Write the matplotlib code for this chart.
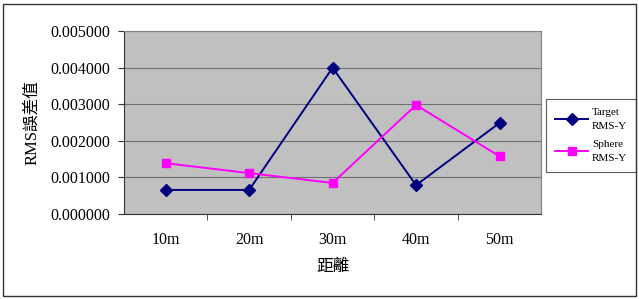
import matplotlib.pyplot as plt
from matplotlib.patches import Rectangle

plt.rcParams['font.family'] = ['Liberation Serif', 'Noto Sans CJK TC']

distances = ['10m', '20m', '30m', '40m', '50m']
target_rms_y = [0.00066, 0.00066, 0.00400, 0.00079, 0.00249]
sphere_rms_y = [0.00139, 0.00112, 0.00085, 0.00298, 0.00158]
y_ticks = [0.0, 0.001, 0.002, 0.003, 0.004, 0.005]

fig = plt.figure(figsize=(6.39, 2.99), dpi=100)
# outer chart border
fig.patches.append(Rectangle((0.004, 0.01), 0.991, 0.977, transform=fig.transFigure,
                             fill=False, edgecolor='#333333', lw=1.0))

ax = fig.add_axes([0.194, 0.284, 0.653, 0.612])
ax.set_facecolor('#c0c0c0')
x = range(len(distances))
ax.plot(x, target_rms_y, color='#000080', lw=1.4, marker='D', markersize=6,
        label='Target\nRMS-Y')
ax.plot(x, sphere_rms_y, color='#ff00ff', lw=1.4, marker='s', markersize=6,
        label='Sphere\nRMS-Y')

ax.set_xlim(-0.5, 4.5)
ax.set_ylim(0, 0.005)
ax.set_yticks(y_ticks)
ax.set_yticklabels([f'{v:.6f}' for v in y_ticks], fontsize=11.5)
ax.set_xticks(list(x))
ax.set_xticklabels(distances, fontsize=11.5)
ax.set_xticks([i + 0.5 for i in range(4)], minor=True)
ax.tick_params(axis='x', which='major', length=0, pad=13)
ax.tick_params(axis='x', which='minor', length=4, direction='out', color='#333333')
ax.tick_params(axis='y', length=4, direction='out', color='#333333', pad=6)
ax.grid(axis='y', color='#707070', lw=0.8)
ax.set_axisbelow(True)
for s in ['left', 'bottom']:
    ax.spines[s].set_color('#333333')
for s in ['top', 'right']:
    ax.spines[s].set_color('#808080')

ax.set_ylabel('RMS誤差值', fontsize=12, labelpad=7)
ax.set_xlabel('距離', fontsize=12, labelpad=8)

leg = ax.legend(loc='center left', bbox_to_anchor=(1.012, 0.43), fontsize=8,
                frameon=True, fancybox=False, edgecolor='#333333',
                handlelength=3.0, handletextpad=0.3, borderpad=0.8,
                labelspacing=0.8, borderaxespad=0)
leg.get_frame().set_linewidth(0.8)
for t in leg.get_texts():
    t.set_horizontalalignment('left')
    t.set_linespacing(1.7)

fig.savefig('out.png', dpi=100)
